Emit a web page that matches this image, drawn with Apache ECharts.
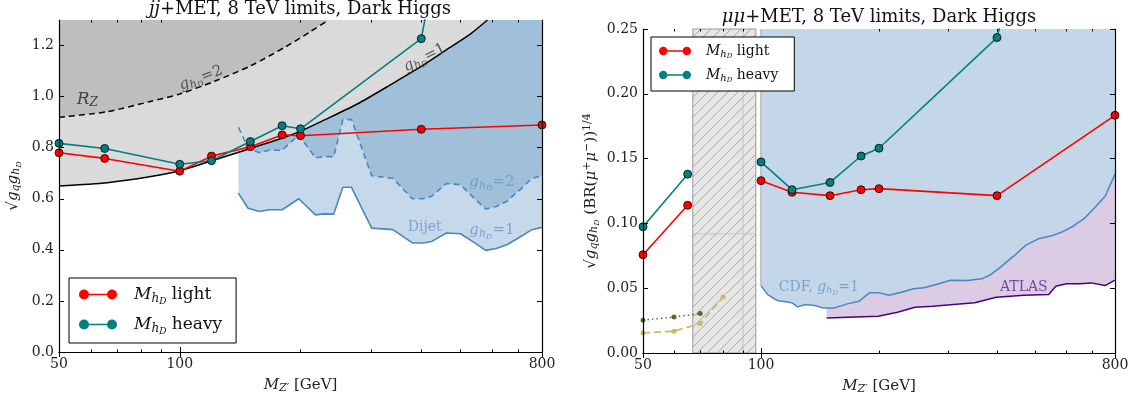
<!DOCTYPE html>
<html>
<head>
<meta charset="utf-8">
<script src="https://cdn.jsdelivr.net/npm/echarts@6/dist/echarts.min.js"></script>
<style>
  html, body { margin: 0; background: #fff; }
  #chart { width: 1133px; height: 402px; }
</style>
</head>
<body>
<div id="chart"></div>
<script>
// ---- data ----
const massPoints = [50, 65, 100, 120, 150, 180, 200, 400, 800];
const jjLight = [0.78, 0.758, 0.708, 0.767, 0.804, 0.85, 0.847, 0.872, 0.889];
const jjHeavy = [0.817, 0.797, 0.735, 0.749, 0.824, 0.886, 0.874, 1.227, 3.7];

// mumu panel: no points inside the excluded window, so the line breaks there
const mumuMass = [50, 65, 80, 100, 120, 150, 180, 200, 400, 800];
const mumuLight = [0.0758, 0.114, null, 0.133, 0.124, 0.1214, 0.126, 0.1268, 0.1214, 0.1834];
const mumuHeavy = [0.0974, 0.138, null, 0.1474, 0.126, 0.1316, 0.152, 0.158, 0.2434, 0.6];

// R_Z bounds
const rzMass = [50, 66, 84, 100, 122, 150, 184, 203, 225, 277, 340, 400, 462, 533, 585];
const rzG1 = [0.65, 0.663, 0.686, 0.71, 0.752, 0.797, 0.843, 0.869, 0.902, 0.971, 1.052, 1.118, 1.183, 1.248, 1.3];
const rzG2Mass = [50, 66, 84, 100, 122, 150, 184, 212, 235];
const rzG2 = [0.919, 0.941, 0.98, 1.01, 1.06, 1.12, 1.196, 1.255, 1.3];

// dijet limits
const dijetMass = [140, 148, 158, 167, 180, 198, 218, 228, 242, 255, 268, 301, 340, 380, 404, 425, 462, 501, 544, 579, 615, 654, 710, 755, 800];
const dijetG1 = [0.622, 0.563, 0.55, 0.557, 0.557, 0.60, 0.537, 0.541, 0.54, 0.645, 0.645, 0.485, 0.479, 0.427, 0.427, 0.433, 0.466, 0.463, 0.427, 0.398, 0.405, 0.42, 0.453, 0.479, 0.488];
const dijetG2 = [0.88, 0.80, 0.78, 0.79, 0.79, 0.85, 0.76, 0.765, 0.765, 0.91, 0.91, 0.69, 0.68, 0.60, 0.60, 0.61, 0.66, 0.655, 0.60, 0.56, 0.57, 0.59, 0.64, 0.68, 0.69];

// CDF and ATLAS limits
const cdfMass = [100, 104, 110, 120, 124, 130, 137, 144, 154, 167, 178, 189, 201, 212, 228, 245, 260, 280, 304, 337, 366, 386, 406, 441, 474, 510, 548, 589, 627, 667, 710, 755, 800];
const cdfLimit = [0.052, 0.045, 0.0405, 0.0387, 0.0356, 0.0374, 0.0366, 0.0348, 0.0348, 0.0381, 0.040, 0.0464, 0.0464, 0.0446, 0.0469, 0.0495, 0.0503, 0.0528, 0.0562, 0.0559, 0.0572, 0.0606, 0.0657, 0.0747, 0.0832, 0.0881, 0.0902, 0.0936, 0.098, 0.1036, 0.112, 0.121, 0.138];
const atlasMass = [147, 174, 199, 223, 247, 274, 310, 351, 398, 469, 542, 565, 601, 653, 695, 755, 800];
const atlasLimit = [0.0271, 0.0278, 0.0284, 0.0314, 0.0353, 0.0361, 0.0374, 0.0387, 0.043, 0.0446, 0.0451, 0.0515, 0.0534, 0.0534, 0.0541, 0.052, 0.0562];

// low-mass curves
const oliveMass = [50, 60, 70];
const oliveLimit = [0.0253, 0.0278, 0.0304];
const khakiMass = [50, 60, 70, 80];
const khakiLimit = [0.0155, 0.0168, 0.0227, 0.0433];

// excluded window (hatched) and faint guide lines inside it
const hatchRange = [67, 97];
const guideMass = 90;
const guideValue = 0.092;

// axes
const massRange = [50, 800];
const massLabels = [50, 100, 800];
const massMajor = [50, 100, 800];
const massMinor = [60, 70, 80, 90, 200, 300, 400, 500, 600, 700];
const jjRange = [0, 1.3];
const jjTicks = [0, 0.2, 0.4, 0.6, 0.8, 1.0, 1.2];
const mumuRange = [0, 0.25];
const mumuTicks = [0, 0.05, 0.1, 0.15, 0.2, 0.25];

// ---- helpers ----
const SERIF = 'DejaVu Serif';
const pairs = (xs, ys) => xs.map((x, i) => [x, ys[i]]);

function rich(size, color) {
  const t = { fontFamily: SERIF, fontWeight: 'normal', color: color };
  return {
    n: Object.assign({ fontSize: size }, t),
    i: Object.assign({ fontSize: size, fontStyle: 'italic' }, t),
    s: Object.assign({ fontSize: Math.round(size * 0.7), fontStyle: 'italic', padding: [Math.round(size * 0.45), 0, 0, 0] }, t),
    ss: Object.assign({ fontSize: Math.round(size * 0.5), fontStyle: 'italic', padding: [Math.round(size * 0.8), 0, 0, 0] }, t),
    sup: Object.assign({ fontSize: Math.round(size * 0.7), padding: [0, 0, Math.round(size * 0.5), 0] }, t)
  };
}
const ghd = '{i|g}{s|h}{ss|D}';

function hatchPattern() {
  const c = document.createElement('canvas');
  c.width = 10; c.height = 10;
  const g = c.getContext('2d');
  g.fillStyle = '#e6e6e6';
  g.fillRect(0, 0, 10, 10);
  g.strokeStyle = '#a3a3a3';
  g.lineWidth = 0.9;
  g.beginPath();
  g.moveTo(0, 10); g.lineTo(10, 0);
  g.moveTo(-1, 1); g.lineTo(1, -1);
  g.moveTo(9, 11); g.lineTo(11, 9);
  g.stroke();
  return c;
}

const tickLine = { color: '#000', width: 1 };

function massAxes(grid) {
  const base = {
    type: 'log', logBase: 10, min: massRange[0], max: massRange[1], gridIndex: grid, z: 20,
    splitLine: { show: false }, axisLine: { show: true, lineStyle: { color: '#000', width: 1.2 } }
  };
  return [
    Object.assign({}, base, {
      position: 'bottom',
      axisTick: { inside: true, length: 5, customValues: massMajor, lineStyle: tickLine },
      axisLabel: {
        customValues: massLabels, margin: 5, fontFamily: SERIF, fontSize: 14, color: '#222',
        formatter: v => String(Math.round(v))
      },
      name: '{i|M}{s|Z′}{n| [GeV]}', nameLocation: 'middle', nameGap: 24,
      nameTextStyle: { rich: rich(15, '#222') }
    }),
    Object.assign({}, base, {
      position: 'top',
      axisTick: { inside: true, length: 5, customValues: massMajor, lineStyle: tickLine },
      axisLabel: { show: false }
    }),
    Object.assign({}, base, {
      position: 'bottom', axisLine: { show: false },
      axisTick: { inside: true, length: 2.5, customValues: massMinor, lineStyle: tickLine },
      axisLabel: { show: false }
    }),
    Object.assign({}, base, {
      position: 'top', axisLine: { show: false },
      axisTick: { inside: true, length: 2.5, customValues: massMinor, lineStyle: tickLine },
      axisLabel: { show: false }
    })
  ];
}

function valueAxes(grid, range, ticks, digits, name, gap) {
  const base = {
    type: 'value', min: range[0], max: range[1], gridIndex: grid, z: 20,
    splitLine: { show: false }, axisLine: { show: true, lineStyle: { color: '#000', width: 1.2 } },
    axisTick: { inside: true, length: 5, customValues: ticks, lineStyle: tickLine }
  };
  return [
    Object.assign({}, base, {
      position: 'left',
      axisLabel: {
        customValues: ticks, margin: 5, fontFamily: SERIF, fontSize: 14, color: '#222',
        formatter: v => v.toFixed(digits)
      },
      name: name, nameLocation: 'middle', nameGap: gap, nameRotate: 90,
      nameTextStyle: { rich: rich(15, '#222') }
    }),
    Object.assign({}, base, { position: 'right', axisLabel: { show: false } })
  ];
}

function dataSeries(name, color, x, y, xi, yi) {
  return {
    name: name, type: 'line', xAxisIndex: xi, yAxisIndex: yi, z: 10,
    data: pairs(x, y), connectNulls: false,
    symbol: 'circle', symbolSize: 8,
    lineStyle: { color: color, width: 1.6 },
    itemStyle: { color: color, borderColor: '#000', borderWidth: 0.8 }
  };
}

function fillSeries(x, y, color, xi, yi, z) {
  return {
    type: 'line', xAxisIndex: xi, yAxisIndex: yi, z: z, silent: true,
    data: pairs(x, y), symbol: 'none',
    lineStyle: { width: 0, opacity: 0 },
    areaStyle: { origin: 'end', color: color, opacity: 1 }
  };
}

function curveSeries(x, y, color, type, width, xi, yi, z, smooth) {
  return {
    type: 'line', xAxisIndex: xi, yAxisIndex: yi, z: z, silent: true,
    data: pairs(x, y), symbol: 'none', smooth: smooth || false,
    lineStyle: { color: color, width: width, type: type }
  };
}

function note(x, y, text, color, size, rotate, align) {
  return {
    value: [x, y],
    label: {
      show: true, position: 'inside', formatter: text, rotate: rotate || 0,
      align: align || 'center', rich: rich(size, color)
    }
  };
}

const legendIcon = 'path://M0,5A5,5 0 1,1 10,5A5,5 0 1,1 0,5Z M9,4.2L29,4.2L29,5.8L9,5.8Z M28,5A5,5 0 1,1 38,5A5,5 0 1,1 28,5Z';
const legendName = name => '{i|M}{s|h}{ss|D}{n| ' + name + '}';

// ---- chart ----
const chart = echarts.init(document.getElementById('chart'), null, { renderer: 'canvas' });
const BLUE = '#4a86c0';
const NOTE_BLUE = '#6796c8';

const option = {
  animation: false,
  backgroundColor: '#fff',
  title: [
    { text: '{i|jj}{n|+MET, 8 TeV limits, Dark Higgs}', left: 300, top: 0, textAlign: 'center', padding: 0,
      textStyle: { fontWeight: 'normal', rich: rich(18, '#111') } },
    { text: '{i|μμ}{n|+MET, 8 TeV limits, Dark Higgs}', left: 879, top: 8, textAlign: 'center', padding: 0,
      textStyle: { fontWeight: 'normal', rich: rich(18, '#111') } }
  ],
  grid: [
    { left: 59, top: 20, width: 483, height: 332, containLabel: false },
    { left: 643, top: 29, width: 472, height: 324, containLabel: false }
  ],
  legend: [
    { data: ['light', 'heavy'], left: 69, top: 278, orient: 'vertical', z: 30,
      backgroundColor: '#fff', borderColor: '#000', borderWidth: 1, borderRadius: 0,
      padding: [8, 14, 7, 10], itemGap: 10, itemWidth: 38, itemHeight: 10, icon: legendIcon,
      itemStyle: { borderWidth: 0 }, formatter: legendName,
      textStyle: { rich: rich(17, '#111'), padding: [0, 0, 0, 12] } },
    { data: ['light', 'heavy'], left: 651, top: 37, orient: 'vertical', z: 30,
      backgroundColor: '#fff', borderColor: '#000', borderWidth: 1, borderRadius: 0,
      padding: [7, 16, 7, 8], itemGap: 8, itemWidth: 32, itemHeight: 9, icon: legendIcon,
      itemStyle: { borderWidth: 0 }, formatter: legendName,
      textStyle: { rich: rich(14, '#111'), padding: [0, 0, 0, 10] } }
  ],
  xAxis: massAxes(0).concat(massAxes(1)),
  yAxis: valueAxes(0, jjRange, jjTicks, 1, '{n|√}' + '{i|g}{s|q}' + ghd, 36)
    .concat(valueAxes(1, mumuRange, mumuTicks, 2,
      '{n|√}{i|g}{s|q}' + ghd + '{n| (BR(}{i|μ}{sup|+}{i|μ}{sup|−}{n|))}{sup|1/4}', 42)),
  series: [
    // ---- left panel ----
    fillSeries(dijetMass, dijetG1, '#c6d9ea', 0, 0, 1),
    fillSeries(dijetMass, dijetG2, '#a0c0da', 0, 0, 2),
    fillSeries(rzMass, rzG1, '#dadada', 0, 0, 3),
    fillSeries(rzG2Mass, rzG2, '#bebebe', 0, 0, 4),
    curveSeries(dijetMass, dijetG1, BLUE, 'solid', 1.6, 0, 0, 5),
    curveSeries(dijetMass, dijetG2, BLUE, [6, 4], 1.6, 0, 0, 5),
    curveSeries(rzMass, rzG1, '#000', 'solid', 1.5, 0, 0, 6, 0.25),
    curveSeries(rzG2Mass, rzG2, '#000', [6, 4], 1.5, 0, 0, 6, 0.25),
    dataSeries('light', '#ff0000', massPoints, jjLight, 0, 0),
    dataSeries('heavy', '#008080', massPoints, jjHeavy, 0, 0),
    {
      type: 'scatter', xAxisIndex: 0, yAxisIndex: 0, z: 12, symbolSize: 0, silent: true,
      data: [
        note(58.8, 0.99, '{i|R}{s|Z}', '#222', 17),
        note(113, 1.073, ghd + '{n|=2}', '#333', 15, 21),
        note(408, 1.152, ghd + '{n|=1}', '#333', 15, 27),
        note(600, 0.665, ghd + '{n|=2}', NOTE_BLUE, 15),
        note(408, 0.489, '{n|Dijet}', NOTE_BLUE, 14),
        note(600, 0.476, ghd + '{n|=1}', NOTE_BLUE, 15)
      ]
    },
    // ---- right panel ----
    fillSeries(atlasMass, atlasLimit, '#dccbe4', 4, 2, 1),
    fillSeries(cdfMass, cdfLimit, '#c4d7e8', 4, 2, 2),
    curveSeries(cdfMass, cdfLimit, BLUE, 'solid', 1.5, 4, 2, 5),
    curveSeries(atlasMass, atlasLimit, '#4b0082', 'solid', 1.5, 4, 2, 5),
    curveSeries([cdfMass[0], cdfMass[0]], [cdfLimit[0], mumuRange[1]], '#c4c4c4', 'solid', 2, 4, 2, 4),
    {
      type: 'line', xAxisIndex: 4, yAxisIndex: 2, z: 3, silent: true, symbol: 'none',
      data: pairs(hatchRange, [mumuRange[0], mumuRange[0]]),
      lineStyle: { opacity: 0 },
      markArea: {
        silent: true,
        itemStyle: { color: { image: hatchPattern(), repeat: 'repeat' }, borderColor: '#999', borderWidth: 1 },
        data: [[{ xAxis: hatchRange[0] }, { xAxis: hatchRange[1] }]]
      }
    },
    curveSeries(hatchRange, [guideValue, guideValue], '#bdbdbd', 'solid', 0.8, 4, 2, 4),
    curveSeries([guideMass, guideMass], mumuRange, '#bdbdbd', 'solid', 0.8, 4, 2, 4),
    {
      type: 'line', xAxisIndex: 4, yAxisIndex: 2, z: 6, silent: true,
      data: pairs(oliveMass, oliveLimit), symbol: 'circle', symbolSize: 5,
      lineStyle: { color: '#556b2f', width: 1.5, type: [1.5, 3] }, itemStyle: { color: '#556b2f' }
    },
    {
      type: 'line', xAxisIndex: 4, yAxisIndex: 2, z: 6, silent: true,
      data: pairs(khakiMass, khakiLimit), symbol: 'circle', symbolSize: 5,
      lineStyle: { color: '#c8bb6e', width: 1.8, type: [7, 4] }, itemStyle: { color: '#c8bb6e' }
    },
    dataSeries('light', '#ff0000', mumuMass, mumuLight, 4, 2),
    dataSeries('heavy', '#008080', mumuMass, mumuHeavy, 4, 2),
    {
      type: 'scatter', xAxisIndex: 4, yAxisIndex: 2, z: 12, symbolSize: 0, silent: true,
      data: [
        note(111, 0.0507, '{n|CDF, }' + ghd + '{n|=1}', NOTE_BLUE, 14, 0, 'left'),
        note(407, 0.0507, '{n|ATLAS}', '#5a1f8f', 14, 0, 'left')
      ]
    }
  ]
};

chart.setOption(option);
</script>
</body>
</html>
